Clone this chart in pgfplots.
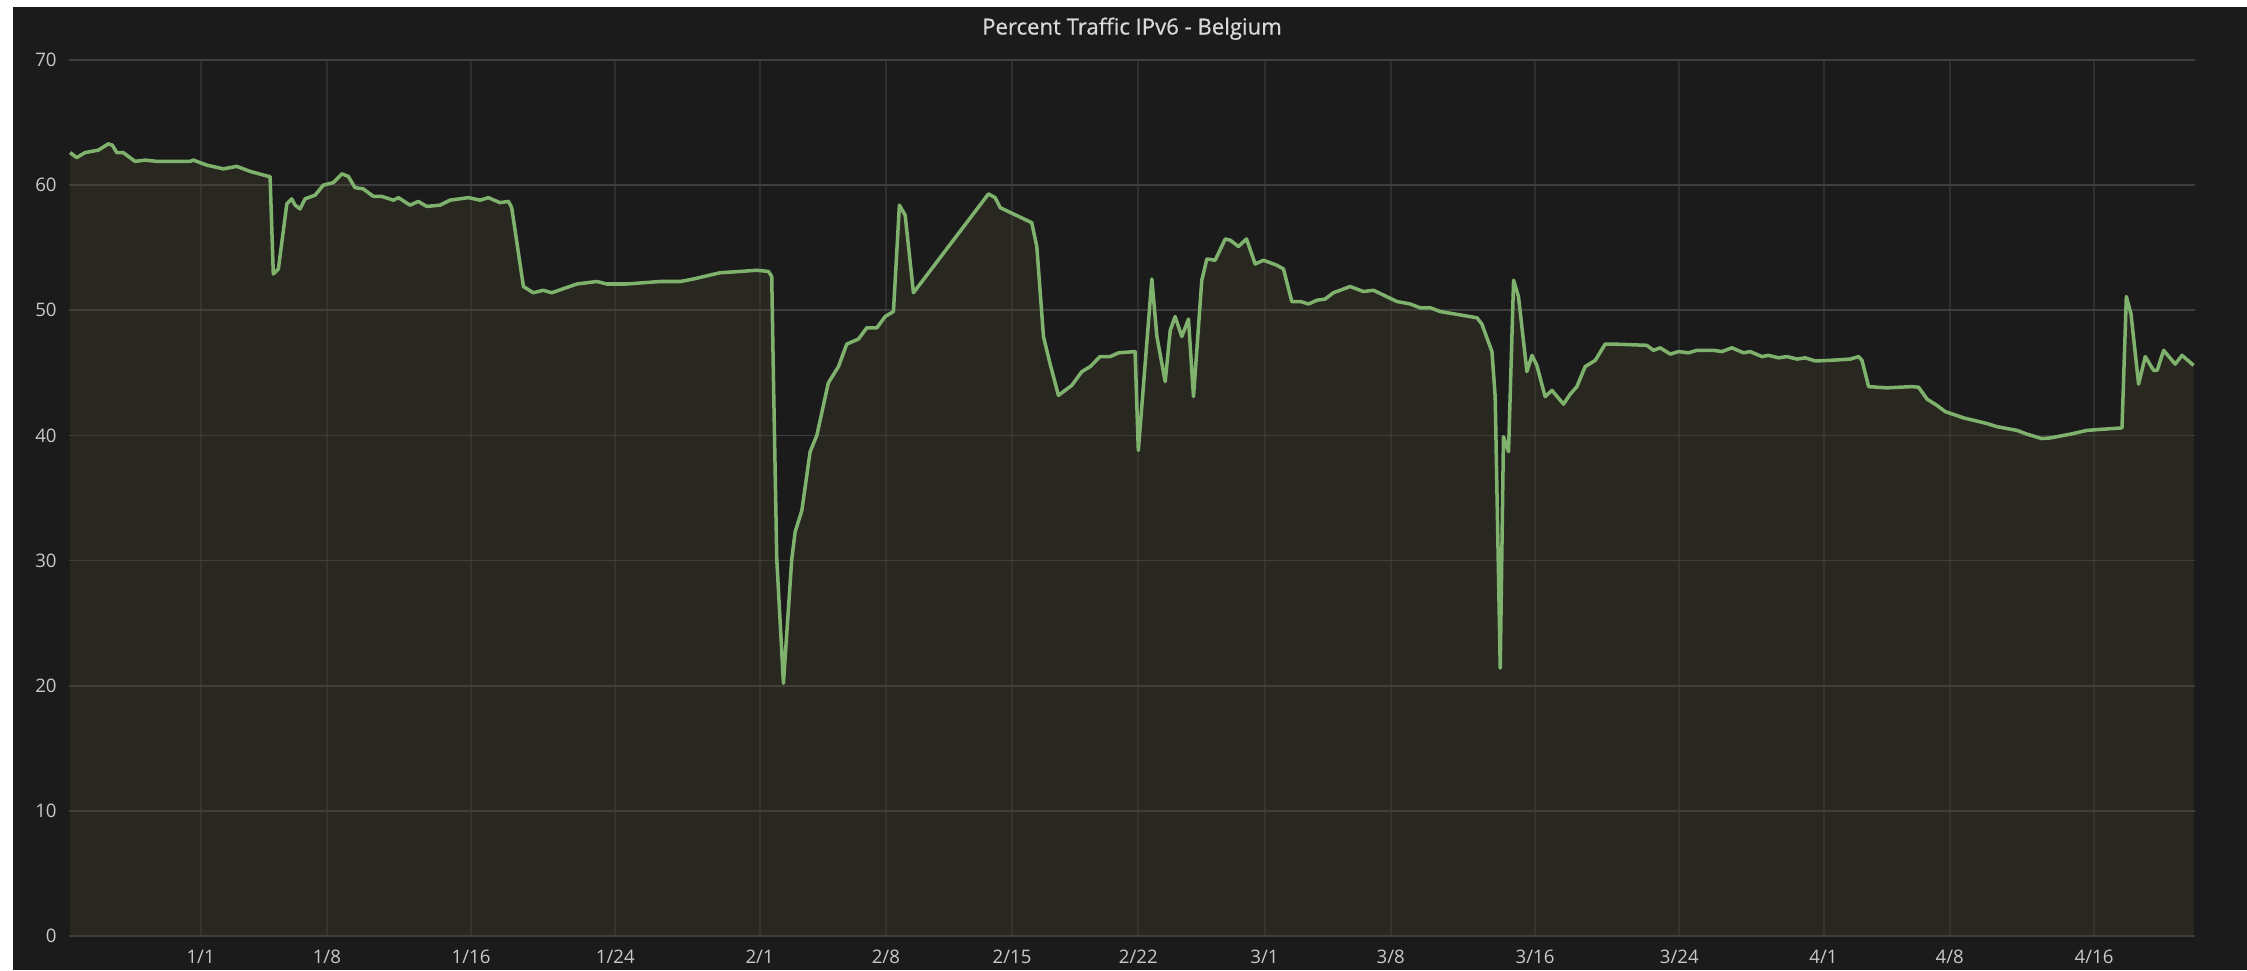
\documentclass[border=0pt]{standalone}
\usepackage{fontspec}
\setmainfont{Open Sans}
\newfontfamily\titlefont[FakeBold=0.6]{Open Sans}
\usepackage{pgfplots}
\usepackage{pgfplotstable}
\pgfplotsset{compat=1.18}
\definecolor{bgdark}{RGB}{27,27,27}
\definecolor{fillsrc}{RGB}{71,71,45}
\definecolor{linec}{HTML}{7EB26D}
\definecolor{hgrid}{RGB}{62,62,62}
\definecolor{vgrid}{RGB}{46,46,46}
\definecolor{txt}{RGB}{200,201,202}
\definecolor{ttxt}{RGB}{216,217,218}

\pgfplotstableread{
d v
-7.24 62.6
-6.87 62.2
-6.41 62.6
-5.67 62.8
-5.12 63.3
-4.90 63.2
-4.65 62.6
-4.29 62.6
-3.64 61.9
-3.08 62.0
-2.43 61.9
-1.50 61.9
-0.59 61.9
-0.40 62.0
0.34 61.6
1.26 61.3
2.00 61.5
2.74 61.1
3.76 60.7
3.85 60.7
4.03 52.9
4.31 53.3
4.78 58.5
5.05 58.9
5.24 58.4
5.51 58.1
5.79 58.9
6.35 59.2
6.80 60.0
7.36 60.2
7.83 60.9
8.19 60.7
8.56 59.8
9.02 59.7
9.58 59.1
10.04 59.1
10.69 58.8
10.97 59.0
11.61 58.4
12.07 58.7
12.54 58.3
13.28 58.4
13.83 58.8
14.85 59.0
15.50 58.8
15.96 59.0
16.60 58.6
17.07 58.7
17.25 58.2
17.90 51.9
18.45 51.4
19.00 51.6
19.47 51.4
20.86 52.1
21.97 52.3
22.52 52.1
23.63 52.1
25.48 52.3
26.60 52.3
27.33 52.5
28.80 53.0
29.90 53.1
30.84 53.2
31.49 53.1
31.67 52.7
31.76 45.0
31.95 30.1
32.32 20.2
32.78 30.1
32.97 32.3
33.34 34.0
33.80 38.7
34.17 40.0
34.81 44.2
35.37 45.5
35.83 47.3
36.48 47.7
36.94 48.6
37.50 48.6
37.96 49.5
38.42 49.9
38.75 58.4
39.07 57.6
39.53 51.4
43.69 59.3
44.06 59.0
44.34 58.2
46.09 57.0
46.37 55.1
46.74 47.9
47.11 45.7
47.57 43.2
48.31 44.0
48.87 45.1
49.33 45.5
49.88 46.3
50.44 46.3
50.90 46.6
51.82 46.7
52.00 38.8
52.75 52.5
53.03 47.9
53.49 44.3
53.77 48.4
54.04 49.5
54.41 47.9
54.78 49.3
55.06 43.1
55.52 52.4
55.80 54.1
56.26 54.0
56.82 55.7
57.10 55.6
57.55 55.1
58.00 55.7
58.48 53.7
58.94 54.0
59.68 53.6
60.05 53.3
60.51 50.7
61.00 50.7
61.44 50.5
61.90 50.8
62.36 50.9
62.82 51.4
63.75 51.9
64.48 51.5
65.04 51.6
66.34 50.7
67.08 50.5
67.63 50.2
68.19 50.2
68.74 49.9
70.78 49.4
71.05 48.9
71.61 46.7
71.79 43.1
72.07 21.4
72.25 39.9
72.53 38.7
72.81 52.4
73.08 51.1
73.55 45.1
73.83 46.4
74.10 45.6
74.56 43.1
74.94 43.6
75.58 42.5
75.95 43.3
76.32 43.9
76.78 45.5
77.34 46.0
77.89 47.3
78.35 47.3
80.20 47.2
80.57 46.8
80.94 47.0
81.50 46.5
81.96 46.7
82.51 46.6
82.98 46.8
83.90 46.8
84.36 46.7
84.92 47.0
85.56 46.6
85.93 46.7
86.58 46.3
86.95 46.4
87.50 46.2
87.97 46.3
88.52 46.1
88.98 46.2
89.54 45.95
90.37 46.0
91.48 46.1
91.94 46.3
92.13 46.0
92.50 43.9
93.50 43.8
94.90 43.9
95.27 43.85
95.74 42.9
96.29 42.4
96.75 41.9
97.77 41.4
99.06 40.95
99.62 40.7
100.73 40.4
101.28 40.1
102.10 39.75
102.57 39.8
103.68 40.1
104.60 40.4
105.53 40.5
106.55 40.6
106.79 51.1
107.05 49.7
107.47 44.1
107.84 46.3
108.30 45.2
108.50 45.2
108.86 46.8
109.50 45.7
109.88 46.4
110.52 45.6
}\traffic

\begin{document}
\begin{tikzpicture}
\useasboundingbox (0,0) rectangle (22.47cm,9.70cm);
\fill[white] (0,0) rectangle (22.47cm,9.70cm);
\fill[bgdark] (0.13cm,0) rectangle (22.47cm,9.63cm);
\begin{axis}[
  at={(0.69cm,0.34cm)}, anchor=south west,
  scale only axis, width=21.26cm, height=8.76cm,
  xmin=-7.3, xmax=110.6, ymin=0, ymax=70,
  axis line style={draw=none},
  major tick length=0pt,
  xtick={0,7,15,23,31,38,45,52,59,66,74,82,90,97,105},
  xticklabels={1/1,1/8,1/16,1/24,2/1,2/8,2/15,2/22,3/1,3/8,3/16,3/24,4/1,4/8,4/16},
  ytick={0,10,...,70},
  grid=major,
  x grid style={vgrid, line width=0.6pt},
  y grid style={hgrid, line width=0.5pt},
  tick label style={font=\fontsize{5.3}{6}\selectfont, text=txt},
  xticklabel style={anchor=center, yshift=-0.21cm},
  /pgf/number format/assume math mode=true,
  title={Percent Traffic IPv6 - Belgium},
  every axis title/.style={at={(0.5,1)}, anchor=center, yshift=0.313cm,
    font=\titlefont\fontsize{6.3}{7}\selectfont, text=ttxt},
]
\addplot[draw=none, fill=fillsrc, fill opacity=0.3] table[x=d, y=v] {\traffic} \closedcycle;
\addplot[linec, line width=1pt, line join=round] table[x=d, y=v] {\traffic};
\end{axis}
\end{tikzpicture}
\end{document}
